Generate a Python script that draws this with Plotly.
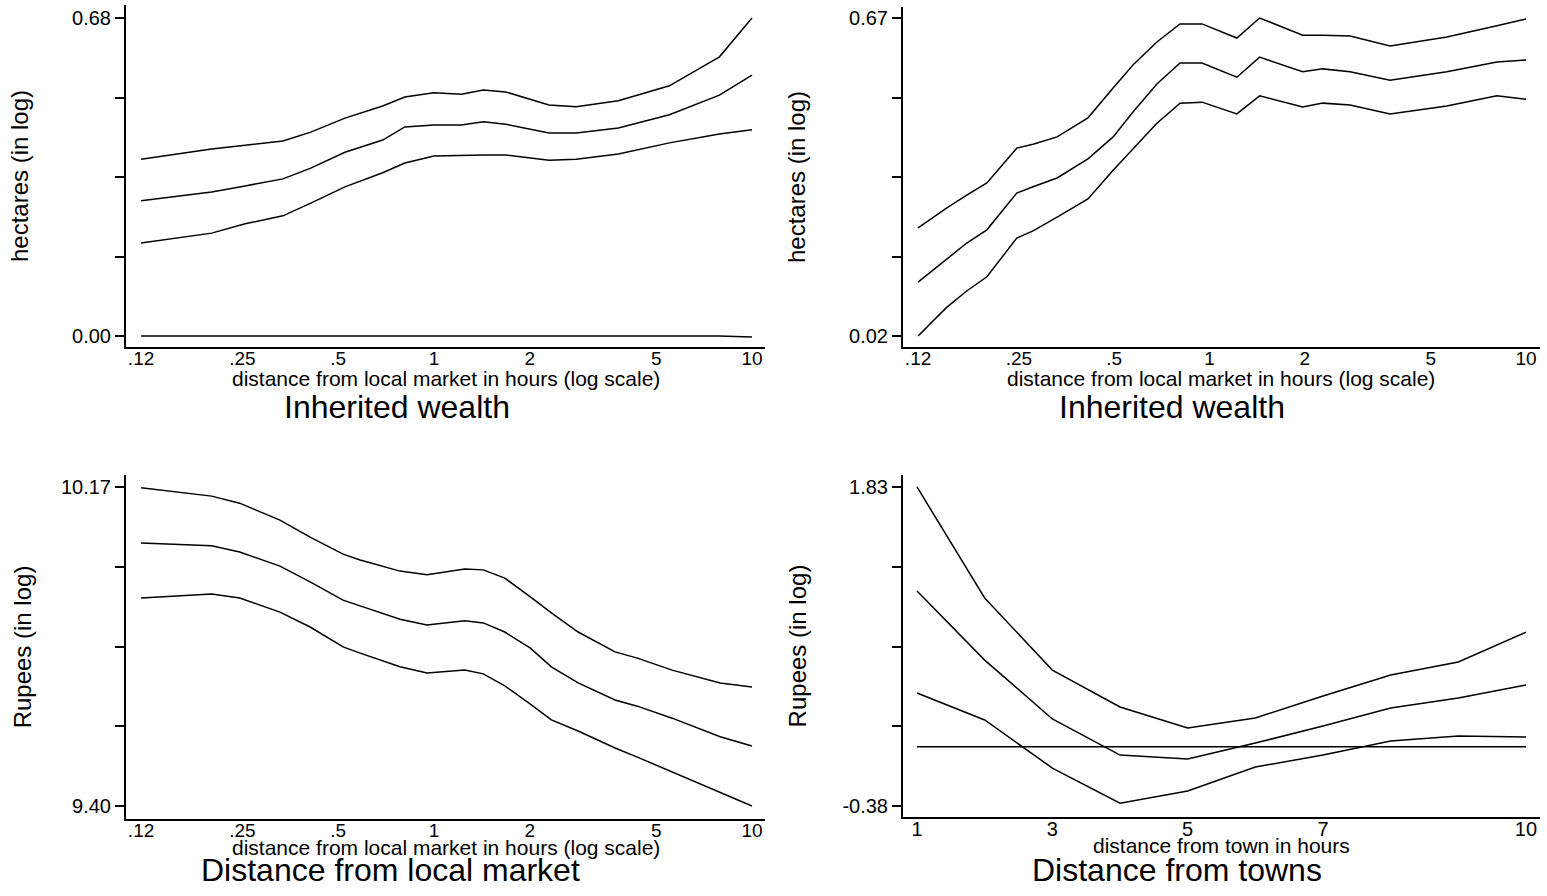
import plotly.graph_objects as go

# ---------------- data ----------------
# Panel A (top-left): hectares vs distance from local market (log scale)
a_x = [0.12, 0.2, 0.255, 0.335, 0.41, 0.525, 0.69, 0.81, 1.0, 1.22, 1.43, 1.68, 2.3, 2.8, 3.8, 5.5, 7.9, 10]
a_upper = [0.378, 0.400, 0.408, 0.417, 0.436, 0.466, 0.492, 0.511, 0.520, 0.517, 0.526, 0.522, 0.494, 0.490, 0.503, 0.535, 0.597, 0.680]
a_mid = [0.289, 0.308, 0.321, 0.336, 0.359, 0.393, 0.419, 0.447, 0.451, 0.451, 0.458, 0.453, 0.434, 0.434, 0.445, 0.473, 0.515, 0.558]
a_lower = [0.199, 0.220, 0.240, 0.257, 0.284, 0.319, 0.349, 0.370, 0.385, 0.387, 0.387, 0.387, 0.376, 0.378, 0.389, 0.413, 0.432, 0.441]
a_zero = [0.0] * 17 + [-0.002]

# Panel B (top-right): hectares vs distance from local market (log scale)
b_x = [0.12, 0.148, 0.171, 0.198, 0.246, 0.277, 0.33, 0.413, 0.496, 0.573, 0.682, 0.807, 0.947,
       1.22, 1.44, 1.97, 2.28, 2.78, 3.72, 5.62, 8.09, 10]
b_upper = [0.241, 0.282, 0.308, 0.333, 0.404, 0.412, 0.427, 0.466, 0.527, 0.574, 0.621, 0.658, 0.658,
           0.629, 0.670, 0.635, 0.635, 0.633, 0.613, 0.631, 0.654, 0.668]
b_mid = [0.130, 0.177, 0.210, 0.237, 0.312, 0.325, 0.343, 0.382, 0.427, 0.478, 0.535, 0.578, 0.578,
         0.549, 0.590, 0.560, 0.566, 0.560, 0.543, 0.560, 0.580, 0.584]
b_lower = [0.020, 0.079, 0.112, 0.141, 0.220, 0.235, 0.263, 0.300, 0.359, 0.402, 0.455, 0.496, 0.498,
           0.474, 0.511, 0.488, 0.496, 0.492, 0.474, 0.490, 0.511, 0.504]

# Panel C (bottom-left): rupees vs distance from local market (log scale)
c_x = [0.12, 0.2, 0.245, 0.328, 0.408, 0.518, 0.586, 0.782, 0.951, 1.25, 1.43, 1.67, 2.01, 2.34,
       2.84, 3.71, 4.36, 5.61, 7.94, 10]
c_upper = [10.168, 10.148, 10.131, 10.090, 10.049, 10.008, 9.994, 9.967, 9.958, 9.972, 9.970, 9.950,
           9.905, 9.866, 9.820, 9.772, 9.757, 9.728, 9.697, 9.687]
c_mid = [10.035, 10.028, 10.013, 9.979, 9.941, 9.897, 9.883, 9.851, 9.837, 9.847, 9.842, 9.820,
         9.781, 9.736, 9.697, 9.656, 9.641, 9.612, 9.567, 9.545]
c_lower = [9.902, 9.912, 9.902, 9.868, 9.832, 9.784, 9.769, 9.736, 9.721, 9.728, 9.719, 9.690,
           9.646, 9.608, 9.581, 9.540, 9.518, 9.482, 9.431, 9.400]

# Panel D (bottom-right): rupees vs distance from town
d_x = [1, 2, 3, 4, 5, 6, 7, 8, 9, 10]
d_upper = [1.830, 1.061, 0.562, 0.306, 0.160, 0.230, 0.382, 0.528, 0.618, 0.825]
d_mid = [1.110, 0.631, 0.223, -0.027, -0.054, 0.056, 0.174, 0.299, 0.368, 0.458]
d_lower = [0.403, 0.216, -0.117, -0.360, -0.276, -0.110, -0.027, 0.070, 0.105, 0.098]
d_flat = [0.03] * 10

log_ticks = [0.12, 0.25, 0.5, 1, 2, 5, 10]
log_ticktext = [".12", ".25", ".5", "1", "2", "5", "10"]
town_ticks = [1, 3, 5, 7, 10]
town_ticktext = ["1", "3", "5", "7", "10"]

# ---------------- figure ----------------
W, H = 1547, 896
FONT = "Liberation Sans, Arial, Helvetica, sans-serif"
fig = go.Figure()

def add(x, y, xa, ya):
    fig.add_trace(go.Scatter(x=x, y=y, mode="lines", xaxis=xa, yaxis=ya,
                             line=dict(color="black", width=1.5), showlegend=False,
                             hoverinfo="skip"))

for ys in (a_upper, a_mid, a_lower, a_zero):
    add(a_x, ys, "x", "y")
for ys in (b_upper, b_mid, b_lower):
    add(b_x, ys, "x2", "y2")
for ys in (c_upper, c_mid, c_lower):
    add(c_x, ys, "x3", "y3")
for ys in (d_upper, d_mid, d_lower, d_flat):
    add(d_x, ys, "x4", "y4")

def px_x(p):
    return p / W

def px_y(p):
    return 1 - p / H

axis_common = dict(showline=True, linecolor="black", linewidth=2, showgrid=False, zeroline=False,
                   mirror=False)

def xaxis(dom, rng, typ, tv, tt, anchor, fsize):
    return dict(domain=[px_x(dom[0]), px_x(dom[1])], range=rng, type=typ, tickvals=tv, ticktext=tt,
                ticks="", ticklabelstandoff=-7,
                tickfont=dict(size=fsize, color="black", family=FONT), anchor=anchor,
                **axis_common)

def yaxis(dom, rng, lo, hi, fmt, title, anchor, standoff):
    step = (hi - lo) / 4
    tv = [lo + i * step for i in range(5)]
    tt = [fmt.format(lo), "", "", "", fmt.format(hi)]
    return dict(domain=[px_y(dom[1]), px_y(dom[0])], range=rng, tickvals=tv, ticktext=tt,
                ticks="outside", ticklen=9, tickwidth=1.5, tickcolor="black",
                tickfont=dict(size=20, color="black", family=FONT), anchor=anchor,
                title=dict(text=title, font=dict(size=24, color="black", family=FONT), standoff=standoff),
                **axis_common)

fig.update_layout(
    width=W, height=H, autosize=False,
    margin=dict(l=0, r=0, t=0, b=0),
    paper_bgcolor="white", plot_bgcolor="white",
    font=dict(family=FONT, color="black"),
    xaxis=xaxis((126, 765), [-0.9682, 1.0409], "log", log_ticks, log_ticktext, "y", 19),
    yaxis=yaxis((5, 347), [-0.0235, 0.7078], 0.0, 0.68, "{:.2f}", "hectares (in log)", "x", 37),
    xaxis2=xaxis((903, 1540), [-0.9684, 1.0442], "log", log_ticks, log_ticktext, "y2", 19),
    yaxis2=yaxis((7, 347), [-0.0025, 0.6925], 0.02, 0.67, "{:.2f}", "hectares (in log)", "x2", 37),
    xaxis3=xaxis((126, 765), [-0.9682, 1.0409], "log", log_ticks, log_ticktext, "y3", 19),
    yaxis3=yaxis((475, 819), [9.3686, 10.199], 9.40, 10.17, "{:.2f}", "Rupees (in log)", "x3", 23),
    xaxis4=xaxis((903, 1540), [0.793, 10.207], "linear", town_ticks, town_ticktext, "y4", 20),
    yaxis4=yaxis((475, 817), [-0.456, 1.913], -0.38, 1.83, "{:.2f}", "Rupees (in log)", "x4", 29),
)

annots = [
    ("distance from local market in hours (log scale)", 446, 378, 21),
    ("distance from local market in hours (log scale)", 1221, 378, 21),
    ("distance from local market in hours (log scale)", 446, 847, 21),
    ("distance from town in hours", 1221, 845, 21),
    ("Inherited wealth", 397, 407, 32),
    ("Inherited wealth", 1172, 407, 32),
    ("Distance from local market", 390, 870, 32),
    ("Distance from towns", 1177, 870, 32),
]
for text, x, y, size in annots:
    fig.add_annotation(text=text, x=px_x(x), y=px_y(y), xref="paper", yref="paper",
                       xanchor="center", yanchor="middle", showarrow=False,
                       font=dict(size=size, color="black", family=FONT))

fig.write_html("out.html", config={"displayModeBar": False},
               post_script="document.body.style.margin='0';document.body.style.overflow='hidden';")
